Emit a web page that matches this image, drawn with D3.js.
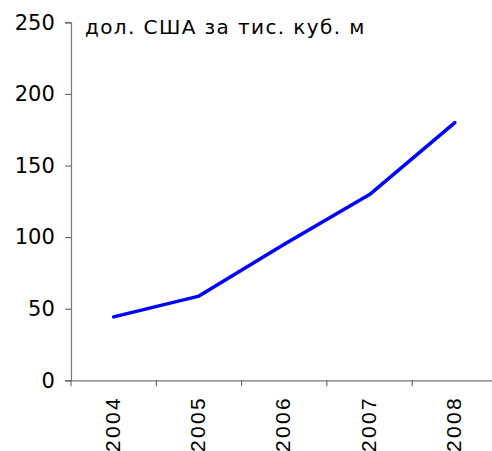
<!DOCTYPE html>
<html><head><meta charset="utf-8">
<script src="https://cdn.jsdelivr.net/npm/d3@7/dist/d3.min.js"></script>
<style>body{margin:0;background:#fff;} svg{display:block;}</style>
</head><body>
<svg id="c" width="492" height="451"></svg>
<script>
const categories = ["2004","2005","2006","2007","2008"];
const values = [44.3, 58.8, 95, 129.7, 180];
const yTicks = [0, 50, 100, 150, 200, 250];
const unitLabel = "дол. США за тис. куб. м";

const svg = d3.select("#c");
const x = d3.scaleBand().domain(categories).range([71, 497.5]);
const y = d3.scaleLinear().domain([0, 250]).range([380.3, 22.3]);

// y axis
const yAxis = svg.append("g").attr("transform","translate(71,0)")
  .call(d3.axisLeft(y).tickValues(yTicks).tickSize(6).tickPadding(10.2));
yAxis.select(".domain").attr("stroke","#777").attr("stroke-width",1.2);
yAxis.selectAll(".tick line").attr("stroke","#555");
yAxis.selectAll(".tick text").attr("font-family","DejaVu Sans, Verdana, sans-serif")
  .attr("font-size",21).attr("fill","#000");

// x axis
const xAxis = svg.append("g").attr("transform","translate(0,380.3)")
  .call(d3.axisBottom(x).tickSizeOuter(0).tickSize(0));
xAxis.select(".domain").attr("stroke","#777").attr("stroke-width",1.2);
xAxis.selectAll(".tick line").remove();
xAxis.selectAll(".bt").data(categories).enter().append("line")
  .attr("x1", d=>x(d)).attr("x2", d=>x(d)).attr("y1",0).attr("y2",6)
  .attr("stroke","#555");
xAxis.selectAll(".tick text")
  .attr("font-family","Liberation Sans, Arial, sans-serif").attr("font-size",21)
  .attr("fill","#000").attr("letter-spacing","2.3px")
  .attr("transform","rotate(-90)")
  .attr("text-anchor","end").attr("x",-15.7).attr("y",-1.4).attr("dy","0.35em");

// line
const line = d3.line().x((d,i)=>x(categories[i]) + x.bandwidth()/2).y(d=>y(d));
svg.append("path").datum(values).attr("d",line)
  .attr("fill","none").attr("stroke","#0000ff").attr("stroke-width",3.5)
  .attr("stroke-linejoin","round").attr("stroke-linecap","round");

// unit label
svg.append("text").attr("x",85).attr("y",33.7)
  .attr("font-family","DejaVu Sans, Verdana, sans-serif").attr("font-size",20)
  .attr("letter-spacing","1.4px").attr("fill","#000").text(unitLabel);
</script>
</body></html>
